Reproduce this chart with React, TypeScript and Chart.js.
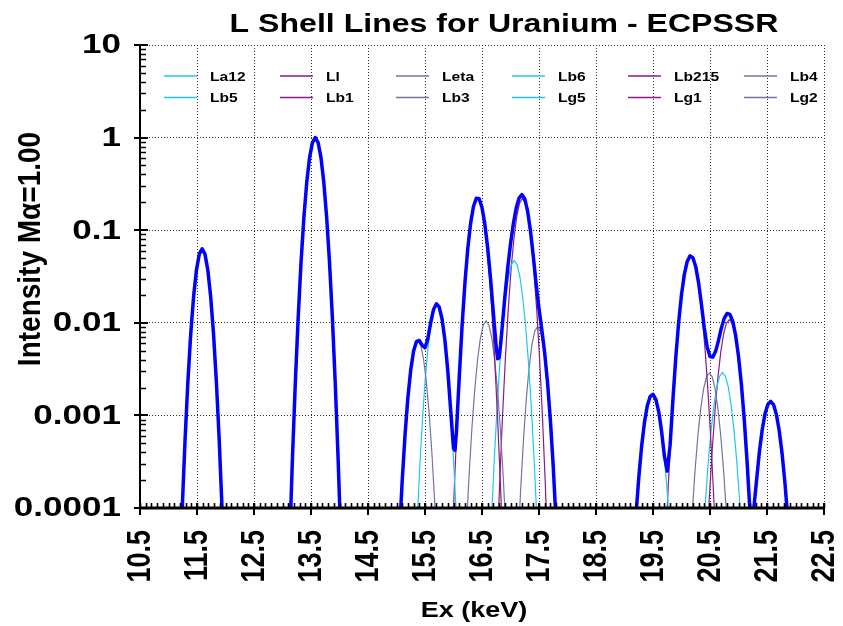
import React, { useEffect, useRef } from "react";
import { Chart, registerables } from "chart.js";

Chart.register(...registerables);

type P = [number, number | null];

const titleText = "L Shell Lines for Uranium - ECPSSR";
const xTitle = "Ex (keV)";
const yTitle = "Intensity M\u03b1=1.00";

const xTickValues = [10.5, 11.5, 12.5, 13.5, 14.5, 15.5, 16.5, 17.5, 18.5, 19.5, 20.5, 21.5, 22.5];
const xTickLabels = ["10.5", "11.5", "12.5", "13.5", "14.5", "15.5", "16.5", "17.5", "18.5", "19.5", "20.5", "21.5", "22.5"];
const yTickValues = [0.0001, 0.001, 0.01, 0.1, 1, 10];
const yTickLabels = ["0.0001", "0.001", "0.01", "0.1", "1", "10"];

const lineNames = ["La12", "Ll", "Leta", "Lb6", "Lb215", "Lb4", "Lb5", "Lb1", "Lb3", "Lg5", "Lg1", "Lg2", "Lg3", "Lg6", "Lg4"];
const legendCount = 12;

// individual lines (keV, intensity)
const La12: P[] = [[13.125, 4.23e-5], [13.175, 3.5e-4], [13.225, 2.26e-3], [13.275, 0.01138], [13.325, 0.0447], [13.375, 0.137], [13.425, 0.327], [13.475, 0.608], [13.525, 0.883], [13.575, 1.0], [13.625, 0.883], [13.675, 0.608], [13.725, 0.327], [13.775, 0.137], [13.825, 0.0447], [13.875, 0.01138], [13.925, 2.26e-3], [13.975, 3.5e-4], [14.025, 4.23e-5]];
const Ll: P[] = [[11.19, 1.32e-5], [11.24, 9.59e-5], [11.29, 5.36e-4], [11.34, 2.3e-3], [11.39, 7.58e-3], [11.44, 0.0191], [11.49, 0.0371], [11.54, 0.0552], [11.59, 0.063], [11.64, 0.0552], [11.69, 0.0371], [11.74, 0.0191], [11.79, 7.58e-3], [11.84, 2.3e-3], [11.89, 5.36e-4], [11.94, 9.59e-5], [11.99, 1.32e-5]];
const Leta: P[] = [[15.025, 2.27e-5], [15.075, 1.01e-4], [15.125, 3.6e-4], [15.175, 1.01e-3], [15.225, 2.27e-3], [15.275, 4.04e-3], [15.325, 5.7e-3], [15.375, 6.4e-3], [15.425, 5.7e-3], [15.475, 4.04e-3], [15.525, 2.27e-3], [15.575, 1.01e-3], [15.625, 3.6e-4], [15.675, 1.01e-4], [15.725, 2.27e-5]];
const Lb6: P[] = [[15.308, 1.17e-5], [15.358, 6.35e-5], [15.408, 2.76e-4], [15.458, 9.54e-4], [15.508, 2.63e-3], [15.558, 5.8e-3], [15.608, 0.0102], [15.658, 0.0143], [15.708, 0.016], [15.758, 0.0143], [15.808, 0.0102], [15.858, 5.8e-3], [15.908, 2.63e-3], [15.958, 9.54e-4], [16.008, 2.76e-4], [16.058, 6.35e-5], [16.108, 1.17e-5]];
const Lb215: P[] = [[15.97, 3.16e-5], [16.02, 2.02e-4], [16.07, 1.04e-3], [16.12, 4.33e-3], [16.17, 0.0144], [16.22, 0.0386], [16.27, 0.083], [16.32, 0.143], [16.37, 0.199], [16.42, 0.222], [16.47, 0.199], [16.52, 0.143], [16.57, 0.083], [16.62, 0.0386], [16.67, 0.0144], [16.72, 4.33e-3], [16.77, 1.04e-3], [16.82, 2.02e-4], [16.87, 3.16e-5]];
const Lb4: P[] = [[16.222, 5.37e-5], [16.272, 2.18e-4], [16.322, 7.12e-4], [16.372, 1.88e-3], [16.422, 3.99e-3], [16.472, 6.83e-3], [16.522, 9.43e-3], [16.572, 0.0105], [16.622, 9.43e-3], [16.672, 6.83e-3], [16.722, 3.99e-3], [16.772, 1.88e-3], [16.822, 7.12e-4], [16.872, 2.18e-4], [16.922, 5.37e-5]];
const Lb5: P[] = [[16.665, 7.19e-5], [16.715, 3.28e-4], [16.765, 1.23e-3], [16.815, 3.73e-3], [16.865, 9.29e-3], [16.915, 0.0189], [16.965, 0.0313], [17.015, 0.0425], [17.065, 0.047], [17.115, 0.0425], [17.165, 0.0313], [17.215, 0.0189], [17.265, 9.29e-3], [17.315, 3.73e-3], [17.365, 1.23e-3], [17.415, 3.28e-4], [17.465, 7.19e-5]];
const Lb1: P[] = [[16.76, 2.85e-5], [16.81, 1.86e-4], [16.86, 9.78e-4], [16.91, 4.12e-3], [16.96, 0.01388], [17.01, 0.0375], [17.06, 0.0814], [17.11, 0.1414], [17.16, 0.197], [17.21, 0.22], [17.26, 0.197], [17.31, 0.1414], [17.36, 0.0814], [17.41, 0.0375], [17.46, 0.01388], [17.51, 4.12e-3], [17.56, 9.78e-4], [17.61, 1.86e-4], [17.66, 2.85e-5]];
const Lb3: P[] = [[17.125, 3.23e-5], [17.175, 1.44e-4], [17.225, 5.12e-4], [17.275, 1.44e-3], [17.325, 3.23e-3], [17.375, 5.74e-3], [17.425, 8.11e-3], [17.475, 9.1e-3], [17.525, 8.11e-3], [17.575, 5.74e-3], [17.625, 3.23e-3], [17.675, 1.44e-3], [17.725, 5.12e-4], [17.775, 1.44e-4], [17.825, 3.23e-5]];
const Lg5: P[] = [[19.14, 2.03e-5], [19.19, 6.57e-5], [19.24, 1.78e-4], [19.29, 4.0e-4], [19.34, 7.54e-4], [19.39, 1.18e-3], [19.44, 1.55e-3], [19.49, 1.7e-3], [19.54, 1.55e-3], [19.59, 1.18e-3], [19.64, 7.54e-4], [19.69, 4.0e-4], [19.74, 1.78e-4], [19.79, 6.57e-5], [19.84, 2.03e-5]];
const Lg1: P[] = [[19.712, 3.05e-5], [19.762, 1.46e-4], [19.812, 5.81e-4], [19.862, 1.92e-3], [19.912, 5.3e-3], [19.962, 0.01214], [20.012, 0.0231], [20.062, 0.0367], [20.112, 0.0483], [20.162, 0.053], [20.212, 0.0483], [20.262, 0.0367], [20.312, 0.0231], [20.362, 0.01214], [20.412, 5.3e-3], [20.462, 1.92e-3], [20.512, 5.81e-4], [20.562, 1.46e-4], [20.612, 3.05e-5]];
const Lg2: P[] = [[20.138, 2.51e-5], [20.188, 8.83e-5], [20.238, 2.56e-4], [20.288, 6.11e-4], [20.338, 1.2e-3], [20.388, 1.95e-3], [20.438, 2.61e-3], [20.488, 2.87e-3], [20.538, 2.61e-3], [20.588, 1.95e-3], [20.638, 1.2e-3], [20.688, 6.11e-4], [20.738, 2.56e-4], [20.788, 8.83e-5], [20.838, 2.51e-5]];
const Lg3: P[] = [[20.37, 3.76e-5], [20.42, 1.19e-4], [20.47, 3.16e-4], [20.52, 7.02e-4], [20.57, 1.3e-3], [20.62, 2.04e-3], [20.67, 2.65e-3], [20.72, 2.9e-3], [20.77, 2.65e-3], [20.82, 2.04e-3], [20.87, 1.3e-3], [20.92, 7.02e-4], [20.97, 3.16e-4], [21.02, 1.19e-4], [21.07, 3.76e-5]];
const Lg6: P[] = [[20.438, 3.32e-5], [20.488, 1.29e-4], [20.538, 4.17e-4], [20.588, 1.13e-3], [20.638, 2.54e-3], [20.688, 4.79e-3], [20.738, 7.53e-3], [20.788, 9.87e-3], [20.838, 0.0108], [20.888, 9.87e-3], [20.938, 7.53e-3], [20.988, 4.79e-3], [21.038, 2.54e-3], [21.088, 1.13e-3], [21.138, 4.17e-4], [21.188, 1.29e-4], [21.238, 3.32e-5]];
const Lg4: P[] = [[21.214, 2.74e-5], [21.264, 7.81e-5], [21.314, 1.89e-4], [21.364, 3.91e-4], [21.414, 6.88e-4], [21.464, 1.03e-3], [21.514, 1.31e-3], [21.564, 1.42e-3], [21.614, 1.31e-3], [21.664, 1.03e-3], [21.714, 6.88e-4], [21.764, 3.91e-4], [21.814, 1.89e-4], [21.864, 7.81e-5], [21.914, 2.74e-5]];

// total spectrum (thick blue line), null = gap
const totalSpectrum: P[] = [
  [11.19, 1.32e-5], [11.24, 9.59e-5], [11.29, 5.36e-4], [11.34, 2.3e-3], [11.39, 7.58e-3], [11.44, 0.0191], [11.49, 0.0371], [11.54, 0.0552], [11.59, 0.063], [11.64, 0.0552], [11.69, 0.0371], [11.74, 0.0191], [11.79, 7.58e-3], [11.84, 2.3e-3], [11.89, 5.36e-4], [11.94, 9.59e-5], [11.99, 1.32e-5],
  [12.5, null],
  [13.125, 4.23e-5], [13.175, 3.5e-4], [13.225, 2.26e-3], [13.275, 0.01138], [13.325, 0.0447], [13.375, 0.137], [13.425, 0.327], [13.475, 0.608], [13.525, 0.883], [13.575, 1.0], [13.625, 0.883], [13.675, 0.608], [13.725, 0.327], [13.775, 0.137], [13.825, 0.0447], [13.875, 0.01138], [13.925, 2.26e-3], [13.975, 3.5e-4], [14.025, 4.23e-5],
  [14.5, null],
  [15.05, 5e-5], [15.1, 1.97e-4], [15.15, 6.2e-4], [15.2, 1.56e-3], [15.25, 3.11e-3], [15.3, 4.95e-3], [15.35, 6.27e-3], [15.4, 6.44e-3], [15.45, 5.73e-3], [15.5, 5.38e-3], [15.55, 6.75e-3], [15.6, 0.01007], [15.65, 0.01394], [15.7, 0.01605], [15.75, 0.0148], [15.8, 0.01092], [15.85, 6.44e-3], [15.9, 3.03e-3], [15.95, 1.15e-3], [16.0, 4.4e-4], [16.025, 4.2e-4], [16.05, 6.4e-4], [16.1, 2.53e-3], [16.15, 9.15e-3], [16.2, 0.0267], [16.25, 0.0628], [16.3, 0.1185], [16.35, 0.1803], [16.4, 0.221], [16.45, 0.2188], [16.5, 0.1761], [16.55, 0.1162], [16.6, 0.0639], [16.65, 0.03], [16.7, 0.0126], [16.75, 5.4e-3], [16.775, 4.1e-3], [16.8, 4.2e-3], [16.825, 5.7e-3], [16.85, 8.4e-3], [16.9, 0.0188], [16.95, 0.0386], [17.0, 0.0709], [17.05, 0.1175], [17.1, 0.1734], [17.15, 0.2226], [17.2, 0.2425], [17.25, 0.2174], [17.3, 0.1608], [17.35, 0.0986], [17.4, 0.0521], [17.45, 0.0262], [17.5, 0.0142], [17.55, 8.35e-3], [17.6, 4.69e-3], [17.65, 2.26e-3], [17.7, 8.84e-4], [17.75, 2.8e-4], [17.8, 7e-5],
  [18.5, null],
  [19.15, 2.6e-5], [19.2, 8.1e-5], [19.25, 2.12e-4], [19.3, 4.61e-4], [19.35, 8.37e-4], [19.4, 1.27e-3], [19.45, 1.6e-3], [19.5, 1.69e-3], [19.55, 1.49e-3], [19.6, 1.1e-3], [19.65, 6.77e-4], [19.7, 3.65e-4], [19.75, 2.5e-4], [19.8, 4.77e-4], [19.85, 1.49e-3], [19.9, 4.23e-3], [19.95, 0.01012], [20.0, 0.02015], [20.05, 0.0334], [20.1, 0.046], [20.15, 0.0528], [20.2, 0.0504], [20.25, 0.0402], [20.3, 0.027], [20.35, 0.0158], [20.4, 8.8e-3], [20.45, 5.49e-3], [20.5, 4.33e-3], [20.55, 4.26e-3], [20.6, 4.95e-3], [20.65, 6.49e-3], [20.7, 8.8e-3], [20.75, 0.01117], [20.8, 0.01262], [20.85, 0.01235], [20.9, 0.01032], [20.95, 7.3e-3], [21.0, 4.36e-3], [21.05, 2.19e-3], [21.1, 9.2e-4], [21.15, 3.2e-4], [21.2, 9.5e-5], [21.225, 5e-5], [21.264, 9.3e-5], [21.314, 1.9e-4], [21.364, 3.92e-4], [21.414, 6.88e-4], [21.464, 1.03e-3], [21.514, 1.31e-3], [21.564, 1.42e-3], [21.614, 1.31e-3], [21.664, 1.03e-3], [21.714, 6.88e-4], [21.764, 3.91e-4], [21.814, 1.89e-4], [21.864, 7.81e-5], [21.914, 2.74e-5],
];

const lineSeries: P[][] = [La12, Ll, Leta, Lb6, Lb215, Lb4, Lb5, Lb1, Lb3, Lg5, Lg1, Lg2, Lg3, Lg6, Lg4];

const palette = ["#1cc8f0", "#8b1a8b", "#7474a2"];
const totalColor = "#0000ff";
const FONT = '"Liberation Sans", Arial, sans-serif';

function stretchText(
  ctx: CanvasRenderingContext2D, text: string, x: number, y: number, size: number,
  align: CanvasTextAlign, baseline: CanvasTextBaseline, sx: number, rotate = false
) {
  ctx.save();
  ctx.translate(x, y);
  ctx.scale(sx, 1);
  if (rotate) ctx.rotate(-Math.PI / 2);
  ctx.font = `bold ${size}px ${FONT}`;
  ctx.textAlign = align;
  ctx.textBaseline = baseline;
  ctx.fillStyle = "#000";
  ctx.fillText(text, 0, 0);
  ctx.restore();
}

const axesPlugin = {
  id: "axesDeco",
  afterDatasetsDraw(chart: any) {
    const { ctx, chartArea: a, scales } = chart;
    const xs = scales.x;
    const ys = scales.y;
    ctx.save();
    ctx.strokeStyle = "#000";
    // x minor ticks (inside)
    ctx.lineWidth = 1.6;
    ctx.beginPath();
    const minorStep = 0.1;
    const nMinor = Math.round((xTickValues[xTickValues.length - 1] - xTickValues[0]) / minorStep);
    for (let i = 0; i <= nMinor; i++) {
      const px = Math.round(xs.getPixelForValue(xTickValues[0] + i * minorStep)) + 0.5;
      ctx.moveTo(px, a.bottom);
      ctx.lineTo(px, a.bottom - 5);
    }
    ctx.stroke();
    // x major ticks (outside)
    ctx.lineWidth = 2;
    ctx.beginPath();
    xTickValues.forEach((v) => {
      const px = Math.round(xs.getPixelForValue(v));
      ctx.moveTo(px, a.bottom - 5);
      ctx.lineTo(px, a.bottom + 7);
    });
    ctx.stroke();
    // y minor ticks (inside)
    ctx.lineWidth = 1.6;
    ctx.beginPath();
    for (let d = 0; d < yTickValues.length - 1; d++) {
      for (let m = 2; m <= 9; m++) {
        const py = Math.round(ys.getPixelForValue(yTickValues[d] * m)) + 0.5;
        ctx.moveTo(a.left, py);
        ctx.lineTo(a.left + 6, py);
      }
    }
    ctx.stroke();
    // y major ticks
    ctx.lineWidth = 2;
    ctx.beginPath();
    yTickValues.forEach((v) => {
      const py = Math.round(ys.getPixelForValue(v));
      ctx.moveTo(a.left - 6, py);
      ctx.lineTo(a.left + 8, py);
    });
    ctx.stroke();
    // axis lines
    ctx.lineWidth = 3;
    ctx.beginPath();
    ctx.moveTo(a.left - 1, a.bottom);
    ctx.lineTo(a.right + 1, a.bottom);
    ctx.stroke();
    ctx.lineWidth = 2;
    ctx.beginPath();
    ctx.moveTo(a.left, a.top);
    ctx.lineTo(a.left, a.bottom);
    ctx.stroke();
    ctx.restore();

    // tick labels
    yTickValues.forEach((v, i) => {
      stretchText(ctx, yTickLabels[i], a.left - 19, ys.getPixelForValue(v) + 1, 27, "right", "middle", 1.3);
    });
    xTickValues.forEach((v, i) => {
      stretchText(ctx, xTickLabels[i], xs.getPixelForValue(v) + 1, a.bottom + 22, 27, "right", "middle", 1.25, true);
    });
    // titles
    stretchText(ctx, titleText, (a.left + a.right) / 2 + 22, 32, 26.5, "center", "alphabetic", 1.21);
    stretchText(ctx, xTitle, (a.left + a.right) / 2 - 8, 617, 22.5, "center", "alphabetic", 1.2);
    stretchText(ctx, yTitle, 40, 249, 28, "center", "alphabetic", 1.1, true);
  },
  afterDraw(chart: any) {
    const { ctx } = chart;
    const ds = chart.data.datasets;
    for (let i = 0; i < legendCount; i++) {
      const d = ds[i + 1];
      const col = i % 6;
      const row = Math.floor(i / 6);
      const x0 = 164 + col * 116;
      const y0 = 76 + row * 21.5;
      ctx.save();
      ctx.strokeStyle = d.borderColor;
      ctx.lineWidth = 1.5;
      ctx.beginPath();
      ctx.moveTo(x0, y0);
      ctx.lineTo(x0 + 33, y0);
      ctx.stroke();
      ctx.restore();
      stretchText(ctx, d.label, x0 + 46, y0 + 1, 13, "left", "middle", 1.2);
    }
  },
};

const toXY = (arr: P[]) => arr.map(([x, y]) => ({ x, y }));

export default function App() {
  const ref = useRef<HTMLCanvasElement | null>(null);
  useEffect(() => {
    if (!ref.current) return;
    const datasets: any[] = [
      {
        label: "Total",
        data: toXY(totalSpectrum),
        borderColor: totalColor,
        borderWidth: 3.5,
        pointRadius: 0,
        tension: 0,
        fill: false,
        order: 0,
        borderJoinStyle: "round",
        spanGaps: false,
      },
      ...lineSeries.map((s, i) => ({
        label: lineNames[i],
        data: toXY(s),
        borderColor: palette[i % 3],
        borderWidth: 1.2,
        pointRadius: 0,
        tension: 0,
        fill: false,
        order: 1,
      })),
    ];
    const chart = new Chart(ref.current, {
      type: "line",
      data: { datasets },
      options: {
        animation: false,
        responsive: false,
        devicePixelRatio: 1,
        layout: { padding: { left: 140, top: 45, right: 19, bottom: 118 } },
        plugins: { legend: { display: false }, tooltip: { enabled: false }, title: { display: false } },
        events: [],
        scales: {
          x: {
            type: "linear",
            min: 10.5,
            max: 22.5,
            afterBuildTicks: (s: any) => {
              s.ticks = xTickValues.map((v) => ({ value: v }));
            },
            ticks: { display: false },
            grid: { color: "#2a2a2a", lineWidth: 1, drawTicks: false },
            border: { display: false, dash: [1, 2] },
          },
          y: {
            type: "logarithmic",
            min: 0.0001,
            max: 10,
            afterBuildTicks: (s: any) => {
              s.ticks = yTickValues.map((v) => ({ value: v }));
            },
            ticks: { display: false },
            grid: { color: "#2a2a2a", lineWidth: 1, drawTicks: false },
            border: { display: false, dash: [1, 2] },
          },
        },
      } as any,
      plugins: [axesPlugin],
    });
    return () => chart.destroy();
  }, []);
  return (
    <div style={{ position: "fixed", left: 0, top: 0, width: 843, height: 626, background: "#fff" }}>
      <canvas ref={ref} width={843} height={626} />
    </div>
  );
}
